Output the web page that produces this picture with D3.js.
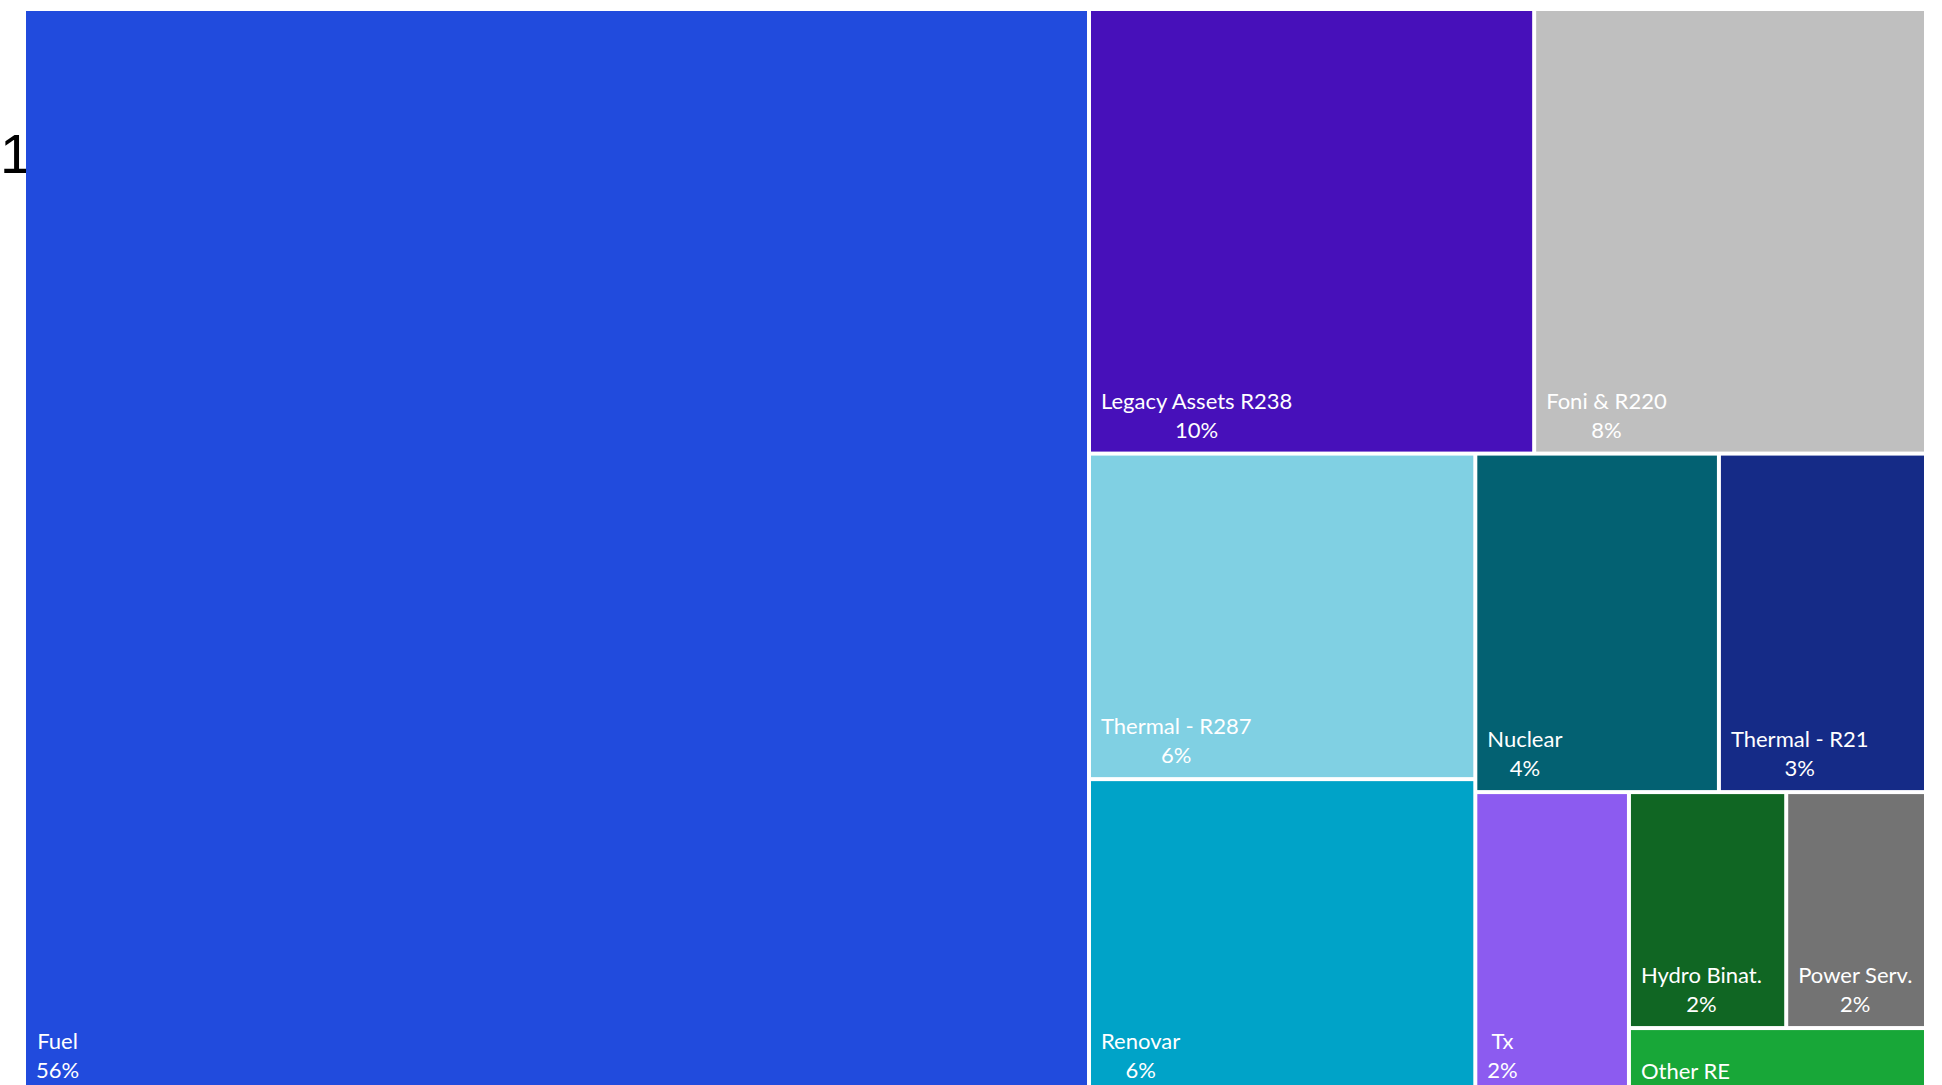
<!DOCTYPE html>
<html>
<head>
<meta charset="utf-8">
<script src="https://cdn.jsdelivr.net/npm/d3@7"></script>
<style>
  html, body { margin: 0; padding: 0; background: #fff; overflow: hidden; }
  svg { display: block; }
</style>
</head>
<body>
<svg id="chart"></svg>
<script>
// shares in percent
const categories = [
  'Fuel', 'Legacy Assets R238', 'Foni & R220', 'Thermal - R287', 'Renovar',
  'Nuclear', 'Thermal - R21', 'Tx', 'Hydro Binat.', 'Power Serv.', 'Other RE',
];
const shares = [56.05, 9.6, 8.45, 6.1, 5.9, 4.0, 3.4, 2.25, 1.8, 1.6, 0.95];
const palette = [
  '#214bdd', '#4710ba', '#bfbfbf', '#80d0e3', '#00a3c8',
  '#036172', '#152b87', '#8c5bf0', '#106623', '#737373', '#18a738',
];
const sideLabel = '1';

const width = 1942;
const height = 1085;
const margin = { left: 26, top: 11 };
const innerW = 1898;
const innerH = 1081;

const svg = d3.select('#chart').attr('width', width).attr('height', height);

const color = d3.scaleOrdinal().domain(categories).range(palette);
const pct = d3.format('.0%');

const total = d3.sum(shares);
const root = d3
  .hierarchy({ children: categories.map((name, i) => ({ name, value: shares[i] })) })
  .sum((d) => d.value || 0)
  .sort((a, b) => b.value - a.value);

d3.treemap()
  .tile(d3.treemapSquarify.ratio(1))
  .size([innerW, innerH])
  .paddingInner(4)(root);

// label at the far left edge
svg
  .append('text')
  .attr('x', 0)
  .attr('y', 173)
  .attr('font-family', "'Liberation Sans', Arial, sans-serif")
  .attr('font-size', 56)
  .attr('fill', '#000')
  .text(sideLabel);

const g = svg.append('g').attr('transform', `translate(${margin.left},${margin.top})`);

const cell = g
  .selectAll('g')
  .data(root.leaves())
  .join('g')
  .attr('transform', (d) => `translate(${d.x0},${d.y0})`);

cell
  .append('rect')
  .attr('width', (d) => d.x1 - d.x0)
  .attr('height', (d) => d.y1 - d.y0)
  .attr('fill', (d) => color(d.data.name));

// Labels: two lines, block at bottom-left, lines centred inside the block
cell.each(function (d) {
  const c = d3.select(this);
  const h = d.y1 - d.y0;
  const nameY = Math.max(h - 43, 49);
  const lines = [d.data.name, pct(d.data.value / total)];
  const texts = c
    .selectAll('text')
    .data(lines)
    .join('text')
    .attr('font-family', 'Lato, sans-serif')
    .attr('font-size', 22)
    .attr('fill', '#fff')
    .attr('text-anchor', 'middle')
    .attr('y', (t, i) => nameY + i * 29)
    .text((t) => t);
  const blockW = d3.max(texts.nodes(), (n) => n.getComputedTextLength());
  texts.attr('x', 10 + blockW / 2);
});
</script>
</body>
</html>
